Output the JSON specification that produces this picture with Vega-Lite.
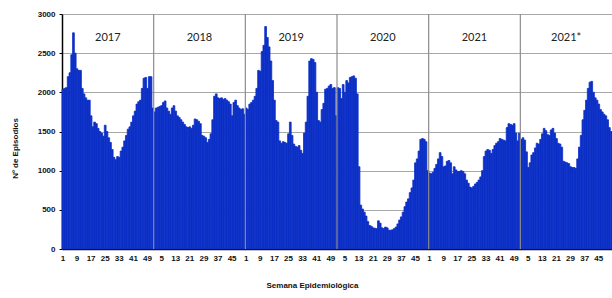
{
  "$schema": "https://vega.github.io/schema/vega-lite/v6.json",
  "autosize": {"type": "none"},
  "padding": {"left": 62, "top": 14, "right": 0, "bottom": 49},
  "width": 550,
  "height": 235,
  "background": "white",
  "config": {"view": {"stroke": null}, "font": "Liberation Sans"},
  "data": {"values": [
{"i":1,"year":"2017","week":1,"n":2040},{"i":2,"year":"2017","week":2,"n":2050},{"i":3,"year":"2017","week":3,"n":2060},{"i":4,"year":"2017","week":4,"n":2200},{"i":5,"year":"2017","week":5,"n":2250},{"i":6,"year":"2017","week":6,"n":2480},{"i":7,"year":"2017","week":7,"n":2760},{"i":8,"year":"2017","week":8,"n":2500},{"i":9,"year":"2017","week":9,"n":2300},{"i":10,"year":"2017","week":10,"n":2280},
{"i":11,"year":"2017","week":11,"n":2280},{"i":12,"year":"2017","week":12,"n":2050},{"i":13,"year":"2017","week":13,"n":1980},{"i":14,"year":"2017","week":14,"n":1930},{"i":15,"year":"2017","week":15,"n":1900},{"i":16,"year":"2017","week":16,"n":1900},{"i":17,"year":"2017","week":17,"n":1700},{"i":18,"year":"2017","week":18,"n":1560},{"i":19,"year":"2017","week":19,"n":1620},{"i":20,"year":"2017","week":20,"n":1600},
{"i":21,"year":"2017","week":21,"n":1540},{"i":22,"year":"2017","week":22,"n":1500},{"i":23,"year":"2017","week":23,"n":1480},{"i":24,"year":"2017","week":24,"n":1440},{"i":25,"year":"2017","week":25,"n":1580},{"i":26,"year":"2017","week":26,"n":1500},{"i":27,"year":"2017","week":27,"n":1420},{"i":28,"year":"2017","week":28,"n":1360},{"i":29,"year":"2017","week":29,"n":1270},{"i":30,"year":"2017","week":30,"n":1170},
{"i":31,"year":"2017","week":31,"n":1140},{"i":32,"year":"2017","week":32,"n":1180},{"i":33,"year":"2017","week":33,"n":1170},{"i":34,"year":"2017","week":34,"n":1250},{"i":35,"year":"2017","week":35,"n":1300},{"i":36,"year":"2017","week":36,"n":1380},{"i":37,"year":"2017","week":37,"n":1450},{"i":38,"year":"2017","week":38,"n":1530},{"i":39,"year":"2017","week":39,"n":1560},{"i":40,"year":"2017","week":40,"n":1620},
{"i":41,"year":"2017","week":41,"n":1700},{"i":42,"year":"2017","week":42,"n":1760},{"i":43,"year":"2017","week":43,"n":1850},{"i":44,"year":"2017","week":44,"n":1880},{"i":45,"year":"2017","week":45,"n":1900},{"i":46,"year":"2017","week":46,"n":2050},{"i":47,"year":"2017","week":47,"n":2180},{"i":48,"year":"2017","week":48,"n":2190},{"i":49,"year":"2017","week":49,"n":2050},{"i":50,"year":"2017","week":50,"n":2200},
{"i":51,"year":"2017","week":51,"n":2200},{"i":52,"year":"2017","week":52,"n":1800},
{"i":53,"year":"2018","week":1,"n":1750},{"i":54,"year":"2018","week":2,"n":1800},{"i":55,"year":"2018","week":3,"n":1810},{"i":56,"year":"2018","week":4,"n":1820},{"i":57,"year":"2018","week":5,"n":1830},{"i":58,"year":"2018","week":6,"n":1870},{"i":59,"year":"2018","week":7,"n":1890},{"i":60,"year":"2018","week":8,"n":1800},{"i":61,"year":"2018","week":9,"n":1760},{"i":62,"year":"2018","week":10,"n":1720},
{"i":63,"year":"2018","week":11,"n":1800},{"i":64,"year":"2018","week":12,"n":1830},{"i":65,"year":"2018","week":13,"n":1760},{"i":66,"year":"2018","week":14,"n":1700},{"i":67,"year":"2018","week":15,"n":1680},{"i":68,"year":"2018","week":16,"n":1650},{"i":69,"year":"2018","week":17,"n":1620},{"i":70,"year":"2018","week":18,"n":1590},{"i":71,"year":"2018","week":19,"n":1560},{"i":72,"year":"2018","week":20,"n":1550},
{"i":73,"year":"2018","week":21,"n":1560},{"i":74,"year":"2018","week":22,"n":1540},{"i":75,"year":"2018","week":23,"n":1580},{"i":76,"year":"2018","week":24,"n":1660},{"i":77,"year":"2018","week":25,"n":1650},{"i":78,"year":"2018","week":26,"n":1630},{"i":79,"year":"2018","week":27,"n":1600},{"i":80,"year":"2018","week":28,"n":1450},{"i":81,"year":"2018","week":29,"n":1440},{"i":82,"year":"2018","week":30,"n":1420},
{"i":83,"year":"2018","week":31,"n":1360},{"i":84,"year":"2018","week":32,"n":1400},{"i":85,"year":"2018","week":33,"n":1470},{"i":86,"year":"2018","week":34,"n":1650},{"i":87,"year":"2018","week":35,"n":1950},{"i":88,"year":"2018","week":36,"n":1980},{"i":89,"year":"2018","week":37,"n":1930},{"i":90,"year":"2018","week":38,"n":1920},{"i":91,"year":"2018","week":39,"n":1930},{"i":92,"year":"2018","week":40,"n":1910},
{"i":93,"year":"2018","week":41,"n":1920},{"i":94,"year":"2018","week":42,"n":1900},{"i":95,"year":"2018","week":43,"n":1880},{"i":96,"year":"2018","week":44,"n":1850},{"i":97,"year":"2018","week":45,"n":1700},{"i":98,"year":"2018","week":46,"n":1870},{"i":99,"year":"2018","week":47,"n":1900},{"i":100,"year":"2018","week":48,"n":1830},{"i":101,"year":"2018","week":49,"n":1800},{"i":102,"year":"2018","week":50,"n":1780},
{"i":103,"year":"2018","week":51,"n":1790},{"i":104,"year":"2018","week":52,"n":1720},
{"i":105,"year":"2019","week":1,"n":1800},{"i":106,"year":"2019","week":2,"n":1780},{"i":107,"year":"2019","week":3,"n":1850},{"i":108,"year":"2019","week":4,"n":1870},{"i":109,"year":"2019","week":5,"n":1900},{"i":110,"year":"2019","week":6,"n":1950},{"i":111,"year":"2019","week":7,"n":2050},{"i":112,"year":"2019","week":8,"n":2280},{"i":113,"year":"2019","week":9,"n":2270},{"i":114,"year":"2019","week":10,"n":2520},
{"i":115,"year":"2019","week":11,"n":2600},{"i":116,"year":"2019","week":12,"n":2840},{"i":117,"year":"2019","week":13,"n":2700},{"i":118,"year":"2019","week":14,"n":2580},{"i":119,"year":"2019","week":15,"n":2400},{"i":120,"year":"2019","week":16,"n":2150},{"i":121,"year":"2019","week":17,"n":1900},{"i":122,"year":"2019","week":18,"n":1640},{"i":123,"year":"2019","week":19,"n":1620},{"i":124,"year":"2019","week":20,"n":1380},
{"i":125,"year":"2019","week":21,"n":1350},{"i":126,"year":"2019","week":22,"n":1370},{"i":127,"year":"2019","week":23,"n":1360},{"i":128,"year":"2019","week":24,"n":1350},{"i":129,"year":"2019","week":25,"n":1470},{"i":130,"year":"2019","week":26,"n":1620},{"i":131,"year":"2019","week":27,"n":1450},{"i":132,"year":"2019","week":28,"n":1340},{"i":133,"year":"2019","week":29,"n":1310},{"i":134,"year":"2019","week":30,"n":1300},
{"i":135,"year":"2019","week":31,"n":1320},{"i":136,"year":"2019","week":32,"n":1260},{"i":137,"year":"2019","week":33,"n":1220},{"i":138,"year":"2019","week":34,"n":1480},{"i":139,"year":"2019","week":35,"n":1620},{"i":140,"year":"2019","week":36,"n":1950},{"i":141,"year":"2019","week":37,"n":2400},{"i":142,"year":"2019","week":38,"n":2430},{"i":143,"year":"2019","week":39,"n":2420},{"i":144,"year":"2019","week":40,"n":2380},
{"i":145,"year":"2019","week":41,"n":2000},{"i":146,"year":"2019","week":42,"n":1640},{"i":147,"year":"2019","week":43,"n":1620},{"i":148,"year":"2019","week":44,"n":1780},{"i":149,"year":"2019","week":45,"n":1860},{"i":150,"year":"2019","week":46,"n":2040},{"i":151,"year":"2019","week":47,"n":2050},{"i":152,"year":"2019","week":48,"n":2080},{"i":153,"year":"2019","week":49,"n":2100},{"i":154,"year":"2019","week":50,"n":2050},
{"i":155,"year":"2019","week":51,"n":2060},{"i":156,"year":"2019","week":52,"n":1700},
{"i":157,"year":"2020","week":1,"n":2060},{"i":158,"year":"2020","week":2,"n":2050},{"i":159,"year":"2020","week":3,"n":1920},{"i":160,"year":"2020","week":4,"n":2100},{"i":161,"year":"2020","week":5,"n":2000},{"i":162,"year":"2020","week":6,"n":2150},{"i":163,"year":"2020","week":7,"n":2120},{"i":164,"year":"2020","week":8,"n":2190},{"i":165,"year":"2020","week":9,"n":2200},{"i":166,"year":"2020","week":10,"n":2210},
{"i":167,"year":"2020","week":11,"n":2180},{"i":168,"year":"2020","week":12,"n":1980},{"i":169,"year":"2020","week":13,"n":1050},{"i":170,"year":"2020","week":14,"n":560},{"i":171,"year":"2020","week":15,"n":510},{"i":172,"year":"2020","week":16,"n":470},{"i":173,"year":"2020","week":17,"n":420},{"i":174,"year":"2020","week":18,"n":350},{"i":175,"year":"2020","week":19,"n":300},{"i":176,"year":"2020","week":20,"n":290},
{"i":177,"year":"2020","week":21,"n":270},{"i":178,"year":"2020","week":22,"n":265},{"i":179,"year":"2020","week":23,"n":260},{"i":180,"year":"2020","week":24,"n":360},{"i":181,"year":"2020","week":25,"n":330},{"i":182,"year":"2020","week":26,"n":270},{"i":183,"year":"2020","week":27,"n":260},{"i":184,"year":"2020","week":28,"n":280},{"i":185,"year":"2020","week":29,"n":270},{"i":186,"year":"2020","week":30,"n":240},
{"i":187,"year":"2020","week":31,"n":240},{"i":188,"year":"2020","week":32,"n":245},{"i":189,"year":"2020","week":33,"n":260},{"i":190,"year":"2020","week":34,"n":280},{"i":191,"year":"2020","week":35,"n":320},{"i":192,"year":"2020","week":36,"n":370},{"i":193,"year":"2020","week":37,"n":410},{"i":194,"year":"2020","week":38,"n":470},{"i":195,"year":"2020","week":39,"n":540},{"i":196,"year":"2020","week":40,"n":600},
{"i":197,"year":"2020","week":41,"n":640},{"i":198,"year":"2020","week":42,"n":720},{"i":199,"year":"2020","week":43,"n":780},{"i":200,"year":"2020","week":44,"n":880},{"i":201,"year":"2020","week":45,"n":1100},{"i":202,"year":"2020","week":46,"n":1150},{"i":203,"year":"2020","week":47,"n":1250},{"i":204,"year":"2020","week":48,"n":1400},{"i":205,"year":"2020","week":49,"n":1410},{"i":206,"year":"2020","week":50,"n":1400},
{"i":207,"year":"2020","week":51,"n":1370},{"i":208,"year":"2020","week":52,"n":1000},
{"i":209,"year":"2021","week":1,"n":970},{"i":210,"year":"2021","week":2,"n":960},{"i":211,"year":"2021","week":3,"n":980},{"i":212,"year":"2021","week":4,"n":1030},{"i":213,"year":"2021","week":5,"n":1080},{"i":214,"year":"2021","week":6,"n":1150},{"i":215,"year":"2021","week":7,"n":1230},{"i":216,"year":"2021","week":8,"n":1180},{"i":217,"year":"2021","week":9,"n":1050},{"i":218,"year":"2021","week":10,"n":1060},
{"i":219,"year":"2021","week":11,"n":1120},{"i":220,"year":"2021","week":12,"n":1130},{"i":221,"year":"2021","week":13,"n":1100},{"i":222,"year":"2021","week":14,"n":960},{"i":223,"year":"2021","week":15,"n":1050},{"i":224,"year":"2021","week":16,"n":1010},{"i":225,"year":"2021","week":17,"n":990},{"i":226,"year":"2021","week":18,"n":990},{"i":227,"year":"2021","week":19,"n":1000},{"i":228,"year":"2021","week":20,"n":990},
{"i":229,"year":"2021","week":21,"n":960},{"i":230,"year":"2021","week":22,"n":880},{"i":231,"year":"2021","week":23,"n":840},{"i":232,"year":"2021","week":24,"n":790},{"i":233,"year":"2021","week":25,"n":780},{"i":234,"year":"2021","week":26,"n":800},{"i":235,"year":"2021","week":27,"n":830},{"i":236,"year":"2021","week":28,"n":850},{"i":237,"year":"2021","week":29,"n":880},{"i":238,"year":"2021","week":30,"n":920},
{"i":239,"year":"2021","week":31,"n":1000},{"i":240,"year":"2021","week":32,"n":1180},{"i":241,"year":"2021","week":33,"n":1250},{"i":242,"year":"2021","week":34,"n":1270},{"i":243,"year":"2021","week":35,"n":1260},{"i":244,"year":"2021","week":36,"n":1220},{"i":245,"year":"2021","week":37,"n":1270},{"i":246,"year":"2021","week":38,"n":1320},{"i":247,"year":"2021","week":39,"n":1350},{"i":248,"year":"2021","week":40,"n":1370},
{"i":249,"year":"2021","week":41,"n":1410},{"i":250,"year":"2021","week":42,"n":1400},{"i":251,"year":"2021","week":43,"n":1390},{"i":252,"year":"2021","week":44,"n":1380},{"i":253,"year":"2021","week":45,"n":1550},{"i":254,"year":"2021","week":46,"n":1600},{"i":255,"year":"2021","week":47,"n":1590},{"i":256,"year":"2021","week":48,"n":1580},{"i":257,"year":"2021","week":49,"n":1600},{"i":258,"year":"2021","week":50,"n":1480},
{"i":259,"year":"2021","week":51,"n":1380},{"i":260,"year":"2021","week":52,"n":1480},
{"i":261,"year":"2021*","week":1,"n":1400},{"i":262,"year":"2021*","week":2,"n":1420},{"i":263,"year":"2021*","week":3,"n":1390},{"i":264,"year":"2021*","week":4,"n":1240},{"i":265,"year":"2021*","week":5,"n":1040},{"i":266,"year":"2021*","week":6,"n":1100},{"i":267,"year":"2021*","week":7,"n":1200},{"i":268,"year":"2021*","week":8,"n":1230},{"i":269,"year":"2021*","week":9,"n":1290},{"i":270,"year":"2021*","week":10,"n":1350},
{"i":271,"year":"2021*","week":11,"n":1340},{"i":272,"year":"2021*","week":12,"n":1400},{"i":273,"year":"2021*","week":13,"n":1470},{"i":274,"year":"2021*","week":14,"n":1540},{"i":275,"year":"2021*","week":15,"n":1510},{"i":276,"year":"2021*","week":16,"n":1460},{"i":277,"year":"2021*","week":17,"n":1450},{"i":278,"year":"2021*","week":18,"n":1520},{"i":279,"year":"2021*","week":19,"n":1540},{"i":280,"year":"2021*","week":20,"n":1480},
{"i":281,"year":"2021*","week":21,"n":1410},{"i":282,"year":"2021*","week":22,"n":1350},{"i":283,"year":"2021*","week":23,"n":1340},{"i":284,"year":"2021*","week":24,"n":1300},{"i":285,"year":"2021*","week":25,"n":1120},{"i":286,"year":"2021*","week":26,"n":1110},{"i":287,"year":"2021*","week":27,"n":1100},{"i":288,"year":"2021*","week":28,"n":1090},{"i":289,"year":"2021*","week":29,"n":1050},{"i":290,"year":"2021*","week":30,"n":1040},
{"i":291,"year":"2021*","week":31,"n":1040},{"i":292,"year":"2021*","week":32,"n":1030},{"i":293,"year":"2021*","week":33,"n":1150},{"i":294,"year":"2021*","week":34,"n":1300},{"i":295,"year":"2021*","week":35,"n":1450},{"i":296,"year":"2021*","week":36,"n":1650},{"i":297,"year":"2021*","week":37,"n":1770},{"i":298,"year":"2021*","week":38,"n":1900},{"i":299,"year":"2021*","week":39,"n":2050},{"i":300,"year":"2021*","week":40,"n":2130},
{"i":301,"year":"2021*","week":41,"n":2140},{"i":302,"year":"2021*","week":42,"n":2000},{"i":303,"year":"2021*","week":43,"n":1930},{"i":304,"year":"2021*","week":44,"n":1900},{"i":305,"year":"2021*","week":45,"n":1850},{"i":306,"year":"2021*","week":46,"n":1780},{"i":307,"year":"2021*","week":47,"n":1750},{"i":308,"year":"2021*","week":48,"n":1720},{"i":309,"year":"2021*","week":49,"n":1700},{"i":310,"year":"2021*","week":50,"n":1650},
{"i":311,"year":"2021*","week":51,"n":1550},{"i":312,"year":"2021*","week":52,"n":1500}
  ]},
  "encoding": {
    "x": {
      "field": "i", "type": "ordinal",
      "scale": {"paddingInner": 0, "paddingOuter": 0},
      "axis": {
        "values": [1,9,17,25,33,41,49,57,65,73,81,89,97,105,113,121,129,137,145,153,161,169,177,185,193,201,209,217,225,233,241,249,257,265,273,281,289,297,305],
        "labelExpr": "((datum.value - 1) % 52) + 1",
        "labelAngle": 0, "labelFontSize": 8, "labelFontWeight": "bold", "labelColor": "#111",
        "labelPadding": 5, "labelOverlap": false, "labelFlush": false,
        "ticks": false, "domainColor": "#000", "domainWidth": 1.5,
        "title": "Semana Epidemiológica", "titleFontSize": 8, "titleFontWeight": "bold", "titleColor": "#111",
        "titleX": 250, "titleY": 32, "titleAnchor": null
      }
    },
    "y": {
      "field": "n", "type": "quantitative",
      "scale": {"domain": [0, 3000], "nice": false},
      "axis": {
        "values": [0, 500, 1000, 1500, 2000, 2500, 3000],
        "format": "d", "labelOverlap": false,
        "grid": true, "gridColor": "#a8a8a8", "gridWidth": 1,
        "domainColor": "#000", "domainWidth": 1.5, "tickSize": 3, "tickColor": "#000",
        "labelFontSize": 8, "labelFontWeight": "bold", "labelColor": "#111", "labelPadding": 4,
        "title": "Nº de Episodios", "titleFontSize": 8, "titleFontWeight": "bold", "titleColor": "#111",
        "titleX": -47, "titleY": 134, "titleBaseline": "middle", "titleAlign": "center"
      }
    }
  },
  "layer": [
    {
      "mark": {"type": "bar", "color": "#0c30c6", "stroke": "#0c30c6", "strokeWidth": 0.8}
    },
    {
      "transform": [{"filter": "datum.week == 1 && datum.year != '2017'"}],
      "mark": {"type": "rule", "color": "#8c8c8c", "strokeWidth": 1.2},
      "encoding": {
        "x": {"field": "i", "type": "ordinal", "bandPosition": 0},
        "y": null
      }
    },
    {
      "transform": [{"filter": "datum.week == 27"}],
      "mark": {"type": "text", "font": "Lato", "fontSize": 11, "color": "#222", "baseline": "middle", "align": "center"},
      "encoding": {
        "x": {"field": "i", "type": "ordinal", "bandPosition": 0},
        "y": {"datum": 2700, "type": "quantitative"},
        "text": {"field": "year", "type": "nominal"}
      }
    }
  ]
}
